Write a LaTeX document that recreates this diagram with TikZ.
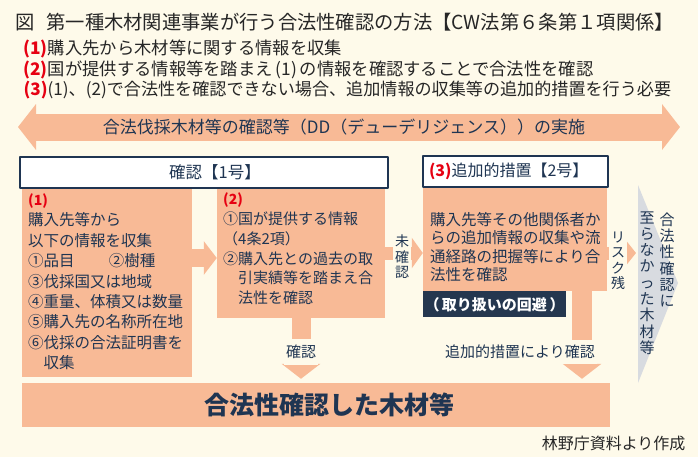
\documentclass[tikz,border=0pt]{standalone}
\usepackage{fontspec}
\setmainfont{Noto Sans CJK JP}
\usetikzlibrary{arrows.meta}
\definecolor{cream}{HTML}{FEFAEA}
\definecolor{salmon}{HTML}{F8BA96}
\definecolor{navy}{HTML}{1F3552}
\definecolor{deepnavy}{HTML}{25374F}
\definecolor{mark}{HTML}{E60012}
\definecolor{ash}{HTML}{D8DBE0}
\newcommand{\fsz}[2]{\fontsize{#1}{#2}\selectfont}
\newcommand{\redno}[1]{{\color{mark}\bfseries #1}}
\begin{document}
\begin{tikzpicture}[x=1pt, y=-1pt, line join=round, text=navy,
  head/.style={draw=navy, line width=1.2pt, fill=white, inner sep=0pt, minimum height=31pt},
  panel/.style={fill=salmon, inner sep=0pt},
  body/.style={anchor=north west, align=left, inner sep=0pt},
  blk/.style={draw=salmon},
  tag/.style={fill=cream, inner sep=2pt, align=center},
  vert/.style={align=center, inner sep=0pt, font=\fsz{15}{16.3}}]
 \useasboundingbox (0,0) rectangle (698,461);
 \fill[cream] (0,0) rectangle (698,457);
 % title and the three points
 \node[anchor=west, text=black!85, font=\fsz{19.3}{19.3}] (title) at (12,22) {図\hspace{0.6em}第一種木材関連事業が行う合法性確認の方法【CW法第６条第１項関係】};
 \node[anchor=west, text=black!85, font=\fsz{17.3}{17.3}] (l1) at (20,49) {\redno{(1)}購入先から木材等に関する情報を収集};
 \node[anchor=west, text=black!85, font=\fsz{17.3}{17.3}] (l2) at (20,70) {\redno{(2)}国が提供する情報等を踏まえ\,(1)\,の情報を確認することで合法性を確認};
 \node[anchor=west, text=black!85, font=\fsz{17.1}{17.1}] (l3) at (20,90) {\redno{(3)}(1)、(2)で合法性を確認できない場合、追加情報の収集等の追加的措置を行う必要};
 % DD arrow
 \coordinate (dl) at (18,127);
 \coordinate (dr) at (680,127);
 \draw[blk, line width=27pt, {Triangle[width=45pt,length=18pt]}-{Triangle[width=45pt,length=18pt]}] (dl) -- (dr);
 \node[font=\fsz{17}{17}] (dd) at (344,127) {合法伐採木材等の確認等（DD（デューデリジェンス））の実施};
 % boxes
 \node[panel, minimum width=170pt, minimum height=189pt] (b1) at (107,282.5) {};
 \node[panel, minimum width=168pt, minimum height=130pt] (b2) at (301,253) {};
 \node[panel, minimum width=184pt, minimum height=103pt] (b3) at (515,239.5) {};
 \node[head, minimum width=368pt, font=\fsz{16.5}{16.5}] (h1) at (204,172.5) {\hspace{22pt}確認【1号】};
 \node[head, text width=173pt, inner xsep=6pt, align=left, font=\fsz{16}{16}] (h3) at (515.5,171.5) {\redno{(3)}追加的措置【2号】};
 \node[fill=deepnavy, text=white, anchor=north west, inner sep=0pt, minimum width=143pt, minimum height=26pt, font=\fsz{15}{15}\bfseries] (avoid) at (b3.south west) {（\,取り扱いの回避\,）};
 \node[panel, minimum width=588pt, minimum height=44pt, font=\fsz{25}{25}\bfseries] (done) at (315.5,405) {\hspace{28pt}合法性確認した木材等};
 % box texts
 \node[body, font=\fsz{15.5}{20.4}] (t1) at (28,193.5) {\redno{\fsz{14}{14}(1)}\\購入先等から\\以下の情報を収集\\①品目\hspace{2.2em}②樹種\\③伐採国又は地域\\④重量、体積又は数量\\⑤購入先の名称所在地\\⑥伐採の合法証明書を\\\hspace*{1em}収集};
 \node[body, font=\fsz{15}{19.7}] (t2) at (223,193) {\redno{\fsz{14}{14}(2)}\\①国が提供する情報\\（4条2項）\\②購入先との過去の取\\\hspace*{1em}引実績等を踏まえ合\\\hspace*{1em}法性を確認};
 \node[body, font=\fsz{15.5}{18.5}] (t3) at (430,212) {購入先等その他関係者か\\らの追加情報の収集や流\\通経路の把握等により合\\法性を確認};
 % grey chevron
 \coordinate (g1) at (638,185);
 \coordinate (g2) at (678,283);
 \coordinate (g3) at (638,383);
 \fill[ash] (g1) -- (g2) -- (g3) -- cycle;
 \node[vert] (nc1) at (667,260) {合\\法\\性\\確\\認\\に};
 \node[vert] (nc2) at (647,283) {至\\ら\\な\\か\\っ\\た\\木\\材\\等};
 % connectors
 \coordinate (y12) at (0,258);
 \coordinate (x3) at (582,0);
 \draw[blk, line width=18pt, -{Triangle[width=33pt,length=13pt]}] (b1.east |- y12) -- (b2.west |- y12);
 \draw[blk, line width=13pt, -{Triangle[width=30pt,length=11pt]}] (b2.east) -- (b2.east -| b3.west);
 \draw[blk, line width=13pt, -{Triangle[width=27pt,length=11pt]}, shorten >=2pt] (b3.east |- b2.east) -- (b2.east -| g1);
 \draw[blk, line width=19pt, -{Triangle[width=38pt,length=15pt]}, shorten >=4pt] (b2.south) -- (b2.south |- done.north);
 \draw[blk, line width=20pt, -{Triangle[width=38pt,length=15pt]}, shorten >=4pt] (b3.south -| x3) -- (done.north -| x3);
 \node[tag, font=\fsz{14}{15.5}] (unc) at (402,257) {未\\確\\認};
 \node[tag, font=\fsz{14}{15.5}] (risk) at (618,261) {リ\\ス\\ク\\残};
 \node[tag, inner ysep=6pt, font=\fsz{15}{15}] (ok2) at (301,352) {確認};
 \node[tag, inner ysep=5pt, font=\fsz{15}{15}] (ok3) at (520,352) {追加的措置により確認};
 % source
 \node[anchor=east, text=black!85, font=\fsz{16}{16}] (src) at (689,443) {林野庁資料より作成};
\end{tikzpicture}
\end{document}
